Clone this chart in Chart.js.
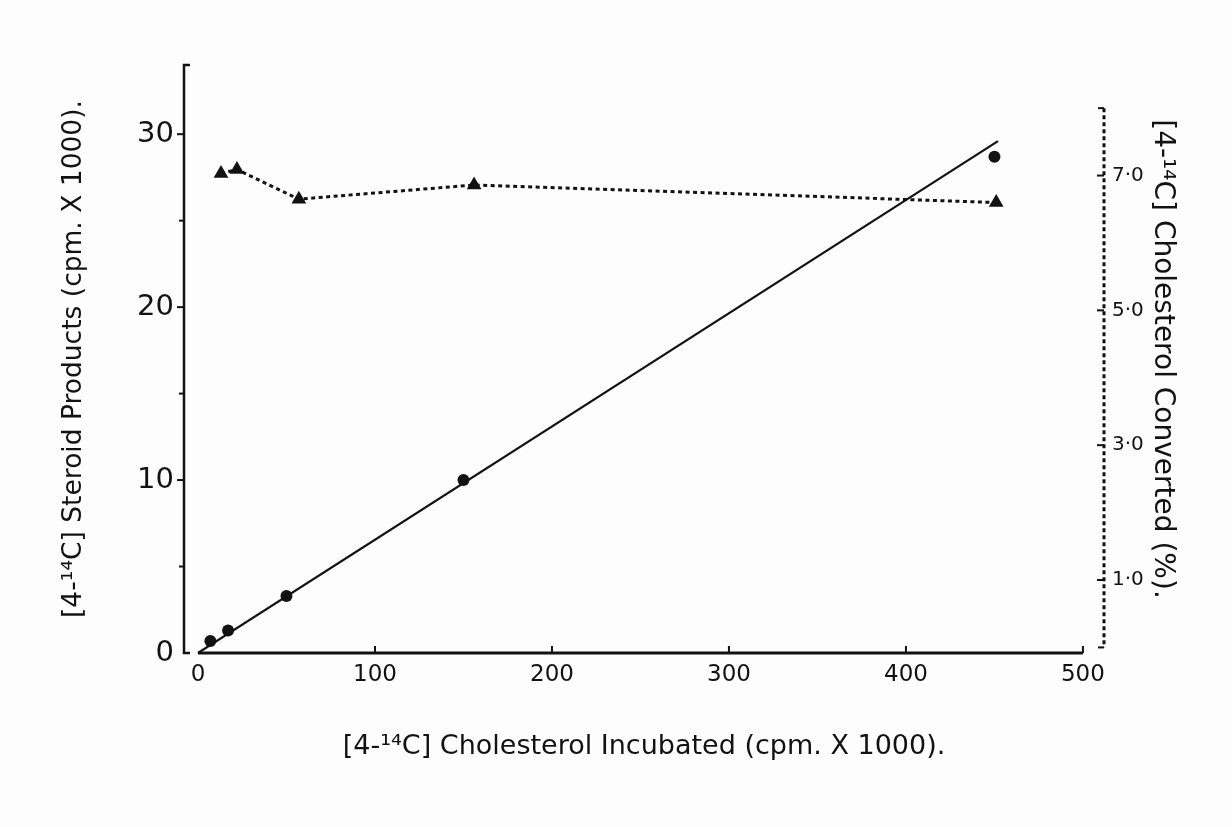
<!DOCTYPE html>
<html>
<head>
<meta charset="utf-8">
<title>Cholesterol conversion</title>
<script src="https://cdn.jsdelivr.net/npm/chart.js@4/dist/chart.umd.min.js"></script>
<style>
  html, body { margin: 0; padding: 0; background: #fdfdfd; }
  #wrap { width: 1232px; height: 827px; }
</style>
</head>
<body>
<div id="wrap"><canvas id="chart" width="1232" height="827"></canvas></div>
<script>
// steroid products formed vs. cholesterol incubated (cpm x 1000)
var INCUBATED = [7, 17, 50, 150, 450];
var STEROID = [0.7, 1.3, 3.3, 10.0, 28.7];

// fitted line through the origin
var FIT_X = [0, 452];
var FIT_Y = [0, 29.6];

// percent converted (right axis)
var CONV_X = [13, 22, 57, 156, 451];
var CONVERTED = [7.03, 7.09, 6.65, 6.86, 6.60];

// axis ticks
var X_TICKS = [0, 100, 200, 300, 400, 500];
var Y_TICKS = [0, 10, 20, 30];
var Y_MINOR = [5, 15, 25];
var Y_TOP = 34;
var Y2_TICKS = [1, 3, 5, 7];
var Y2_TOP = 8;

var INK = "#121212";
var FONT = "'DejaVu Sans', 'Noto Sans', sans-serif";

function fixSize(prop, size) {
    return function (scale) {
        scale[prop] = size;
    };
}

function useTicks(values) {
    return function (scale) {
        scale.ticks = values.map(function (v) { return { value: v }; });
    };
}

// axes are drawn by hand: left solid, bottom starting at x = 0, right dotted
var handAxes = {
    id: "handAxes",
    afterDatasetsDraw: function (chart) {
        var ctx = chart.ctx;
        var area = chart.chartArea;
        var xs = chart.scales.x;
        var ys = chart.scales.y;
        var y2 = chart.scales.y2;
        var yTop = ys.getPixelForValue(Y_TOP);
        var yBase = ys.getPixelForValue(0);

        ctx.save();
        ctx.strokeStyle = INK;
        ctx.lineCap = "butt";
        ctx.lineJoin = "miter";

        // left axis with small end serifs
        ctx.lineWidth = 2.5;
        ctx.beginPath();
        ctx.moveTo(area.left + 6, yTop);
        ctx.lineTo(area.left, yTop);
        ctx.lineTo(area.left, yBase);
        ctx.lineTo(area.left + 6, yBase);
        ctx.stroke();

        ctx.lineWidth = 2;
        Y_TICKS.concat(Y_MINOR).forEach(function (v) {
            var py = ys.getPixelForValue(v);
            var len = v % 10 === 0 ? 7 : 5;
            if (v === 0) {
                return;
            }
            ctx.beginPath();
            ctx.moveTo(area.left - len, py);
            ctx.lineTo(area.left, py);
            ctx.stroke();
        });

        // bottom axis, ticks pointing up
        ctx.lineWidth = 3;
        ctx.beginPath();
        ctx.moveTo(xs.getPixelForValue(0), yBase);
        ctx.lineTo(xs.getPixelForValue(500), yBase);
        ctx.stroke();

        ctx.lineWidth = 2;
        X_TICKS.forEach(function (v) {
            var px = xs.getPixelForValue(v);
            if (v === 0) {
                return;
            }
            ctx.beginPath();
            ctx.moveTo(px, yBase);
            ctx.lineTo(px, yBase - 7);
            ctx.stroke();
        });

        // right axis, dotted
        var rTop = y2.getPixelForValue(Y2_TOP);
        var rBase = y2.getPixelForValue(0);
        ctx.lineWidth = 3;
        ctx.setLineDash([4, 3]);
        ctx.beginPath();
        ctx.moveTo(area.right, rTop);
        ctx.lineTo(area.right, rBase);
        ctx.stroke();
        ctx.setLineDash([]);

        ctx.lineWidth = 2;
        [0, Y2_TOP].concat(Y2_TICKS).forEach(function (v) {
            var py = y2.getPixelForValue(v);
            var len = (v === 0 || v === Y2_TOP) ? 6 : 7;
            ctx.beginPath();
            ctx.moveTo(area.right - len, py);
            ctx.lineTo(area.right, py);
            ctx.stroke();
        });

        ctx.restore();
    }
};

function pairs(xs, ys) {
    return xs.map(function (x, i) { return { x: x, y: ys[i] }; });
}

new Chart(document.getElementById("chart").getContext("2d"), {
    type: "scatter",
    data: {
        datasets: [
            {
                label: "Steroid products",
                data: pairs(INCUBATED, STEROID),
                yAxisID: "y",
                pointRadius: 6,
                pointBackgroundColor: INK,
                pointBorderWidth: 0,
                showLine: false
            },
            {
                label: "Fit",
                data: pairs(FIT_X, FIT_Y),
                yAxisID: "y",
                showLine: true,
                pointRadius: 0,
                borderColor: INK,
                borderWidth: 2.2
            },
            {
                label: "Converted",
                data: pairs(CONV_X, CONVERTED),
                yAxisID: "y2",
                showLine: true,
                borderColor: INK,
                borderWidth: 3,
                borderDash: [4, 3.5],
                pointStyle: "triangle",
                pointRadius: 8.5,
                pointBackgroundColor: INK,
                pointBorderWidth: 0
            }
        ]
    },
    options: {
        responsive: false,
        animation: false,
        layout: { padding: { top: 65, left: 0, right: 0, bottom: 0 } },
        plugins: {
            legend: { display: false },
            tooltip: { enabled: false }
        },
        scales: {
            x: {
                type: "linear",
                min: -7.9,
                max: 511.9,
                afterFit: fixSize("height", 174),
                afterBuildTicks: useTicks(X_TICKS),
                grid: { display: false, drawTicks: false },
                border: { display: false },
                ticks: {
                    color: INK,
                    padding: 8,
                    font: { family: FONT, size: 23 }
                },
                title: {
                    display: true,
                    text: "[4-\u00b9\u2074C] Cholesterol Incubated (cpm. X 1000).",
                    color: INK,
                    padding: { top: 0, bottom: 64 },
                    font: { family: FONT, size: 27 }
                }
            },
            y: {
                type: "linear",
                position: "left",
                min: 0,
                max: Y_TOP,
                afterFit: fixSize("width", 184),
                afterBuildTicks: useTicks(Y_TICKS),
                grid: { display: false, drawTicks: false },
                border: { display: false },
                ticks: {
                    color: INK,
                    padding: 10,
                    font: { family: FONT, size: 29 }
                },
                title: {
                    display: true,
                    text: "[4-\u00b9\u2074C] Steroid Products (cpm. X 1000).",
                    color: INK,
                    padding: { top: 58, bottom: 0 },
                    font: { family: FONT, size: 26.5 }
                }
            },
            y2: {
                type: "linear",
                position: "right",
                min: -0.083,
                max: 8.64,
                afterFit: fixSize("width", 128),
                afterBuildTicks: useTicks(Y2_TICKS),
                grid: { display: false, drawTicks: false },
                border: { display: false },
                ticks: {
                    color: INK,
                    padding: 8,
                    font: { family: FONT, size: 20 },
                    callback: function (v) {
                        return Number(v).toFixed(1).replace(".", "\u00b7");
                    }
                },
                title: {
                    display: true,
                    text: "[4-\u00b9\u2074C] Cholesterol Converted (%).",
                    color: INK,
                    padding: { top: 53, bottom: 0 },
                    font: { family: FONT, size: 28 }
                }
            }
        }
    },
    plugins: [handAxes]
});
</script>
</body>
</html>
